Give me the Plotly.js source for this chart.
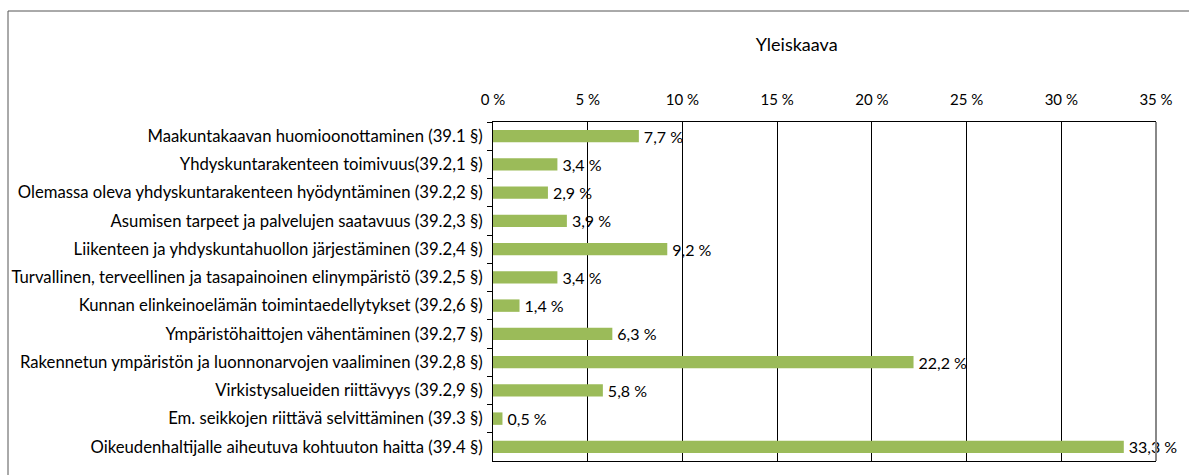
<!DOCTYPE html>
<html>
<head>
<meta charset="utf-8">
<script src="https://cdn.plot.ly/plotly-3.0.1.min.js"></script>
<style>
  body { margin: 0; background: #fff; }
  #myDiv { width: 1189px; height: 475px; }
</style>
</head>
<body>
<div id="myDiv"></div>
<script>
var categories = [
  'Maakuntakaavan huomioonottaminen (39.1 §)',
  'Yhdyskuntarakenteen toimivuus(39.2,1 §)',
  'Olemassa oleva yhdyskuntarakenteen hyödyntäminen (39.2,2 §)',
  'Asumisen tarpeet ja palvelujen saatavuus (39.2,3 §)',
  'Liikenteen ja yhdyskuntahuollon järjestäminen (39.2,4 §)',
  'Turvallinen, terveellinen ja tasapainoinen elinympäristö (39.2,5 §)',
  'Kunnan elinkeinoelämän toimintaedellytykset (39.2,6 §)',
  'Ympäristöhaittojen vähentäminen (39.2,7 §)',
  'Rakennetun ympäristön ja luonnonarvojen vaaliminen (39.2,8 §)',
  'Virkistysalueiden riittävyys (39.2,9 §)',
  'Em. seikkojen riittävä selvittäminen (39.3 §)',
  'Oikeudenhaltijalle aiheutuva kohtuuton haitta (39.4 §)'
];
var values = [7.7, 3.4, 2.9, 3.9, 9.2, 3.4, 1.4, 6.3, 22.2, 5.8, 0.5, 33.3];
var tickValues = [0, 5, 10, 15, 20, 25, 30, 35];
var tickLabels = ['0 %', '5 %', '10 %', '15 %', '20 %', '25 %', '30 %', '35 %'];

// thin space gives the small gap between bar end and label
var labels = values.map(function (v) { return '\u2009' + v.toFixed(1).replace('.', ',') + ' %'; });

var font = 'Lato, "Open Sans", sans-serif';

var bars = {
  type: 'bar',
  orientation: 'h',
  x: values,
  y: categories,
  text: labels,
  textposition: 'outside',
  constraintext: 'none',
  cliponaxis: false,
  textfont: { family: font, size: 16, color: '#000' },
  marker: { color: '#9BBB59' },
  hoverinfo: 'none'
};

var layout = {
  width: 1189,
  height: 475,
  margin: { l: 493, r: 33, t: 122, b: 14 },
  paper_bgcolor: '#fff',
  plot_bgcolor: '#fff',
  showlegend: false,
  bargap: 0.56,
  font: { family: font, size: 14, color: '#000' },
  title: {
    text: 'Yleiskaava',
    font: { family: font, size: 18, color: '#000' },
    x: 0.67, xanchor: 'center',
    y: 0.905, yanchor: 'middle'
  },
  xaxis: {
    side: 'top',
    range: [0, 35],
    tickvals: tickValues,
    ticktext: tickLabels,
    showgrid: true,
    gridcolor: '#000',
    gridwidth: 1,
    zeroline: false,
    showline: true,
    linecolor: '#000',
    linewidth: 1,
    mirror: true,
    ticks: '',
    ticklabelstandoff: 10,
    tickfont: { family: font, size: 15, color: '#000' },
    fixedrange: true
  },
  yaxis: {
    autorange: 'reversed',
    showline: true,
    linecolor: '#000',
    linewidth: 1,
    ticks: 'outside',
    tickson: 'boundaries',
    ticklen: 5,
    tickcolor: '#000',
    ticklabelstandoff: 6,
    showgrid: false,
    tickfont: { family: font, size: 16.7, color: '#000' },
    fixedrange: true
  },
  shapes: [
    { type: 'line', xref: 'paper', yref: 'paper', x0: 1, x1: 1, y0: 0, y1: 1,
      line: { color: '#888', width: 2 } },
    { type: 'rect', xref: 'paper', yref: 'paper',
      x0: -485 / 663, x1: 1.3, y0: -0.3, y1: 1 + 111 / 339,
      line: { color: '#555', width: 1 } }
  ]
};

Plotly.newPlot('myDiv', [bars], layout, { displayModeBar: false, staticPlot: true });
</script>
</body>
</html>
